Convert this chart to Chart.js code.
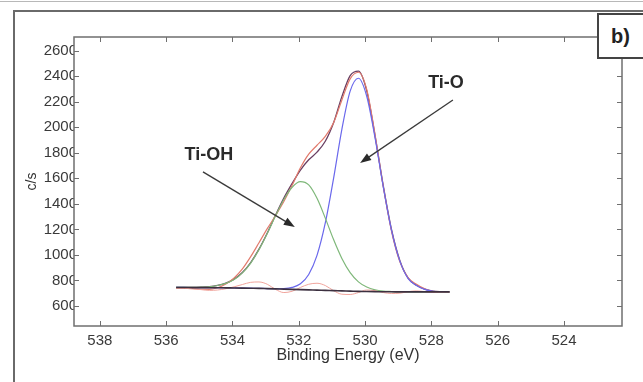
<!DOCTYPE html>
<html>
<head>
<meta charset="utf-8">
<script src="https://cdn.jsdelivr.net/npm/chart.js@4.4.1/dist/chart.umd.min.js"></script>
<style>
  html, body { margin: 0; padding: 0; background: #fff; }
  #wrap { position: relative; width: 643px; height: 382px; overflow: hidden; }
  #topline { position: absolute; left: 0; top: 1px; width: 643px; border-top: 1px solid #b8b8b8; }
  #frame { position: absolute; left: 13px; top: 10px; width: 700px; height: 400px;
           border-left: 2px solid #6a6a6a; border-top: 2px solid #6a6a6a; }
  #chart { position: absolute; left: 0; top: 0; }
  #tag { position: absolute; left: 597px; top: 13px; width: 60px; height: 42px; background: #fff;
         border: 2px solid #444; font: bold 20px "Liberation Sans", Arial, sans-serif; color: #222;
         line-height: 42px; padding-left: 12px; box-sizing: content-box; }
</style>
</head>
<body>
<div id="wrap">
  <div id="topline"></div>
  <div id="frame"></div>
  <canvas id="chart" width="643" height="382"></canvas>
  <div id="tag">b)</div>
</div>
<script>
// --- DATA ---
const energy = [535.7, 535.45, 535.2, 534.95, 534.7, 534.45, 534.2, 533.95, 533.7, 533.45,
                533.2, 532.95, 532.7, 532.45, 532.2, 531.95, 531.7, 531.45, 531.2, 530.95,
                530.7, 530.45, 530.2, 529.95, 529.7, 529.45, 529.2, 528.95, 528.7, 528.45,
                528.2, 527.95, 527.7, 527.45];

const measured = [740, 738, 736, 731, 730, 743, 772, 819, 890, 986,
                  1095, 1206, 1308, 1418, 1545, 1682, 1789, 1859, 1928, 2035,
                  2214, 2379, 2431, 2297, 1943, 1534, 1182, 945, 820, 770,
                  734, 712, 710, 710];

const envelope = [745, 745, 745, 747, 751, 761, 779, 810, 862, 940,
                  1045, 1172, 1312, 1445, 1560, 1665, 1745, 1805, 1890, 2035,
                  2240, 2405, 2440, 2285, 1935, 1540, 1195, 955, 818, 762,
                  732, 717, 712, 710];

const tiOH = [745, 745, 745, 747, 750, 760, 777, 807, 859, 936,
              1041, 1168, 1306, 1434, 1530, 1574, 1548, 1443, 1288, 1120,
              972, 861, 789, 748, 726, 716, 713, 711, 710, 710,
              710, 710, 710, 710];

const tiO = [745, 745, 744, 744, 743, 743, 742, 741, 740, 739,
             738, 736, 735, 736, 745, 774, 847, 996, 1250, 1600,
             1984, 2283, 2384, 2243, 1919, 1531, 1190, 951, 814, 760,
             730, 715, 712, 711];

const background = [745, 745, 744, 744, 743, 743, 742, 741, 740, 739,
                    738, 736, 734, 732, 730, 728, 726, 724, 722, 720,
                    718, 716, 714, 713, 712, 711, 711, 710, 710, 710,
                    710, 710, 710, 710];

const residual = [740, 738, 735, 728, 722, 725, 735, 750, 768, 785,
                  788, 770, 730, 705, 715, 745, 770, 778, 760, 720,
                  692, 690, 705, 725, 720, 705, 698, 700, 712, 718,
                  712, 705, 708, 710];

const xTicks = [538, 536, 534, 532, 530, 528, 526, 524];
const yTicks = [600, 800, 1000, 1200, 1400, 1600, 1800, 2000, 2200, 2400, 2600];

// labels with arrows, in data units
const callouts = [
    { text: 'Ti-OH', x: 534.71, y: 1783, fromX: 534.89, fromY: 1650, toX: 532.12, toY: 1219 },
    { text: 'Ti-O', x: 527.56, y: 2347, fromX: 527.35, fromY: 2214, toX: 530.15, toY: 1720 }
];

function pts(values) {
    return energy.map((e, i) => ({ x: e, y: values[i] }));
}

function series(label, values, color, width) {
    return {
        label: label,
        data: pts(values),
        borderColor: color,
        borderWidth: width,
        pointRadius: 0,
        fill: false,
        cubicInterpolationMode: 'monotone'
    };
}

// frame, inward ticks and the arrow callouts
const decorations = {
    id: 'decorations',
    afterDatasetsDraw(chart) {
        const { ctx, chartArea: a, scales: { x, y } } = chart;
        ctx.save();
        ctx.strokeStyle = '#6f6f6f';
        ctx.lineWidth = 1.5;
        ctx.strokeRect(a.left, a.top, a.right - a.left, a.bottom - a.top);

        ctx.lineWidth = 1;
        xTicks.forEach(v => {
            const px = Math.round(x.getPixelForValue(v)) + 0.5;
            ctx.beginPath();
            ctx.moveTo(px, a.bottom); ctx.lineTo(px, a.bottom - 5);
            ctx.moveTo(px, a.top); ctx.lineTo(px, a.top + 5);
            ctx.stroke();
        });
        yTicks.forEach(v => {
            const py = Math.round(y.getPixelForValue(v)) + 0.5;
            ctx.beginPath();
            ctx.moveTo(a.left, py); ctx.lineTo(a.left + 5, py);
            ctx.moveTo(a.right, py); ctx.lineTo(a.right - 5, py);
            ctx.stroke();
        });

        ctx.fillStyle = '#2a2a2a';
        ctx.strokeStyle = '#3a3a3a';
        ctx.font = 'bold 18px "Liberation Sans", Arial, sans-serif';
        ctx.textAlign = 'center';
        ctx.textBaseline = 'middle';
        callouts.forEach(c => {
            ctx.fillText(c.text, x.getPixelForValue(c.x), y.getPixelForValue(c.y));
            const x0 = x.getPixelForValue(c.fromX), y0 = y.getPixelForValue(c.fromY);
            const x1 = x.getPixelForValue(c.toX), y1 = y.getPixelForValue(c.toY);
            const ang = Math.atan2(y1 - y0, x1 - x0);
            ctx.lineWidth = 1.3;
            ctx.beginPath();
            ctx.moveTo(x0, y0);
            ctx.lineTo(x1 - 6 * Math.cos(ang), y1 - 6 * Math.sin(ang));
            ctx.stroke();
            ctx.beginPath();
            ctx.moveTo(x1, y1);
            ctx.lineTo(x1 - 11 * Math.cos(ang) + 4 * Math.sin(ang), y1 - 11 * Math.sin(ang) - 4 * Math.cos(ang));
            ctx.lineTo(x1 - 11 * Math.cos(ang) - 4 * Math.sin(ang), y1 - 11 * Math.sin(ang) + 4 * Math.cos(ang));
            ctx.closePath();
            ctx.fill();
        });
        ctx.restore();
    }
};

const tickFont = { family: '"Liberation Sans", Arial, sans-serif', size: 15 };

new Chart(document.getElementById('chart'), {
    type: 'line',
    data: {
        datasets: [
            series('Background', background, '#3c3040', 1.6),
            series('Residual', residual, '#f0a49c', 1),
            series('Ti-OH', tiOH, '#7fb87a', 1.2),
            series('Ti-O', tiO, '#6a68ec', 1.2),
            series('Measured', measured, '#e27a6c', 1.2),
            series('Envelope', envelope, '#6a3f62', 1.3)
        ]
    },
    options: {
        responsive: false,
        animation: false,
        devicePixelRatio: 1,
        layout: { padding: { top: 37, right: 21, left: 0, bottom: 0 } },
        plugins: {
            legend: { display: false },
            tooltip: { enabled: false }
        },
        scales: {
            x: {
                type: 'linear',
                reverse: true,
                min: 522.25,
                max: 538.78,
                afterFit: s => { s.height = 56; },
                afterBuildTicks: s => { s.ticks = xTicks.map(v => ({ value: v })); },
                grid: { display: false, drawTicks: false, tickLength: 0 },
                border: { display: false },
                ticks: { color: '#3a3a3a', font: tickFont, padding: 6, maxRotation: 0,
                         callback: v => String(v) },
                title: {
                    display: true,
                    text: 'Binding Energy (eV)',
                    color: '#333',
                    font: { family: '"Liberation Sans", Arial, sans-serif', size: 16 },
                    padding: { top: 0, bottom: 17 }
                }
            },
            y: {
                min: 443,
                max: 2707,
                afterFit: s => { s.width = 74; },
                afterBuildTicks: s => { s.ticks = yTicks.map(v => ({ value: v })); },
                grid: { display: false, drawTicks: false, tickLength: 0 },
                border: { display: false },
                ticks: { color: '#3a3a3a', font: tickFont, padding: -3,
                         callback: v => String(v) },
                title: {
                    display: true,
                    text: 'c/s',
                    color: '#333',
                    font: { family: '"Liberation Sans", Arial, sans-serif', size: 14 },
                    padding: { top: 24, bottom: 0 }
                }
            }
        }
    },
    plugins: [decorations]
});
</script>
</body>
</html>
